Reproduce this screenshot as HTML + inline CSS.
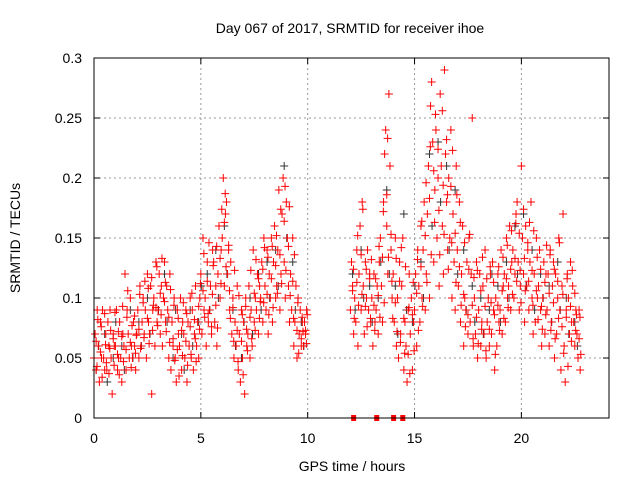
<!DOCTYPE html>
<html><head><meta charset="utf-8"><style>
html,body{margin:0;padding:0;background:#fff;}
svg{display:block;font-family:"Liberation Sans",sans-serif;}
</style></head><body>
<svg id="chart" width="640" height="480" xmlns="http://www.w3.org/2000/svg">
<text x="350" y="33" font-size="14" text-anchor="middle">Day 067 of 2017, SRMTID for receiver ihoe</text>
<text transform="translate(20,238) rotate(-90)" font-size="14" text-anchor="middle">SRMTID / TECUs</text>
<text x="352" y="471" font-size="14" text-anchor="middle">GPS time / hours</text>
<g id="grid"></g>
<g id="ticks"></g>
<g id="black"></g>
<g id="red"></g>
<g id="marks"></g>
<rect x="94" y="58" width="515" height="360" fill="none" stroke="#000" stroke-width="1"/>
</svg>
<script>
const xTicks=[0,5,10,15,20];
const yTicks=[0,0.05,0.1,0.15,0.2,0.25,0.3];
const yTickLabels=["0","0.05","0.1","0.15","0.2","0.25","0.3"];
// red series: [hour, values in hundredths...]
const redRows=[
[0.0,5,7,4,9],[0.2,6,3,8,5],[0.4,9,5,4,7],[0.6,4,8,6,9],[0.8,5,2,7,6],[1.0,6,9,4,5],[1.2,8,5,3,7],[1.4,6,12,4,9],[1.6,7,5,10,6],[1.8,5,8,6,4],
[2.0,7,9,5,11],[2.2,6,8,10,7],[2.4,9,5,12,8],[2.6,7,11,2,9],[2.8,10,6,13,8],[3.0,9,12,7,11],[3.2,6,10,13,8],[3.4,11,9,5,12],[3.6,4,8,6,10],[3.8,5,3,9,7],
[4.0,6,10,4,8],[4.2,7,5,9,3],[4.4,8,6,10,5],[4.6,9,4,7,11],[4.8,6,8,5,10],[5.0,12,7,15,9],[5.2,10,6,13,8],[5.4,9,11,7,14],[5.6,13,8,11,6],[5.8,12,16,10,14],
[6.0,15,20,11,17],[6.2,18,12,14,9],[6.4,13,7,10,5],[6.6,8,6,11,4],[6.8,7,3,9,5],[7.0,8,2,10,6],[7.2,7,11,5,9],[7.4,6,14,8,10],[7.6,9,12,7,11],[7.8,10,13,8,15],
[8.0,11,9,14,7],[8.2,12,10,15,8],[8.4,13,16,10,11],[8.6,14,19,9,12],[8.8,17,20,13,10],[9.0,18,15,11,8],[9.2,12,9,15,6],[9.4,8,11,5,10],[9.6,7,9,6,8],[9.8,6,8,7,9],
[12.0,9,13,11,7],[12.2,10,8,14,6],[12.4,12,16,9,18],[12.6,11,7,13,10],[12.8,14,9,12,8],[13.0,10,6,12,8],[13.2,9,11,7,13],[13.4,15,11,8,18],[13.6,22,24,16,12],[13.8,27,21,14,10],
[14.0,12,8,15,6],[14.2,10,5,13,7],[14.4,11,15,4,8],[14.6,6,3,9,12],[14.8,7,10,4,8],[15.0,9,12,6,14],[15.2,11,8,16,10],[15.4,14,18,9,12],[15.6,17,21,10,26],[15.8,28,23,13,19],
[16.0,24,15,20,11],[16.2,27,21,16,12],[16.4,29,22,18,14],[16.6,20,15,24,10],[16.8,17,13,9,21],[17.0,14,11,18,8],[17.2,12,16,6,10],[17.4,9,13,7,15],[17.6,8,12,25,6],[17.8,10,7,13,5],
[18.0,9,12,6,8],[18.2,11,7,14,5],[18.4,8,10,6,12],[18.6,7,13,9,4],[18.8,10,6,12,8],[19.0,9,14,7,11],[19.2,12,8,15,10],[19.4,11,16,9,13],[19.6,14,10,12,17],[19.8,18,13,9,11],
[20.0,21,15,12,8],[20.2,16,11,14,9],[20.4,13,18,10,7],[20.6,12,8,15,10],[20.8,11,14,9,6],[21.0,10,13,7,12],[21.2,9,12,6,14],[21.4,8,11,13,5],[21.6,12,7,10,15],[21.8,9,4,11,17],
[22.0,6,3,9,12],[22.2,10,7,13,8],[22.4,11,8,6,9],[22.6,7,5,9,4]
];
const redRows2=[
[0.1,6.4,4.3,8.2],[0.3,5.5,7.6,3.4],[0.5,8.7,6.1,4.6],[0.7,3.7,5.8,7.3],[0.9,6.6,4.4,8.8],[1.1,5.3,7.2,3.6],[1.3,6.8,9.3,4.7],[1.5,5.7,8.4,10.6],[1.7,6.3,4.2,7.7],[1.9,8.5,5.4,6.9],
[2.1,7.4,10.3,5.8],[2.3,9.6,6.7,11.4],[2.5,8.3,10.8,6.2],[2.7,11.7,7.3,9.4],[2.9,9.2,12.6,7.7],[3.1,10.4,8.6,13.3],[3.3,9.7,11.3,7.2],[3.5,8.4,6.3,10.7],[3.7,6.6,9.4,4.8],[3.9,5.7,8.3,3.5],
[4.1,7.3,5.2,9.6],[4.3,6.4,8.7,4.4],[4.5,7.6,5.3,10.4],[4.7,8.2,6.6,4.7],[4.9,9.3,7.4,11.2],[5.1,10.6,13.7,8.4],[5.3,11.4,8.7,14.6],[5.5,7.6,10.3,12.7],[5.7,9.4,14.3,7.5],[5.9,13.3,11.2,17.4],
[6.1,16.3,18.7,12.6],[6.3,14.4,10.6,8.3],[6.5,9.2,6.4,12.3],[6.7,7.3,4.7,10.2],[6.9,6.4,8.6,3.6],[7.1,9.3,7.4,5.6],[7.3,8.4,12.3,6.6],[7.5,10.4,7.3,13.2],[7.7,11.6,8.3,9.7],[7.9,12.4,9.6,14.2],
[8.1,10.3,13.4,8.6],[8.3,11.6,14.3,9.2],[8.5,12.7,15.2,10.4],[8.7,13.6,17.4,11.2],[8.9,16.4,19.3,12.3],[9.1,14.3,17.6,10.2],[9.3,11.4,8.3,13.6],[9.5,7.3,9.6,5.4],[9.7,6.6,8.4,7.2],[9.9,7.3,6.2,8.6],
[12.1,10.6,12.4,8.3],[12.3,11.3,15.2,9.4],[12.5,13.6,10.3,17.4],[12.7,9.3,12.4,7.6],[12.9,11.6,8.3,13.2],[13.1,9.4,7.3,11.6],[13.3,10.2,14.3,8.4],[13.5,13.4,17.2,9.6],[13.7,18.6,23.3,13.4],[13.9,15.3,11.4,8.3],
[14.1,9.6,13.3,7.2],[14.3,11.4,6.3,14.2],[14.5,8.3,5.4,12.6],[14.7,5.3,9.2,3.7],[14.9,8.6,11.3,5.6],[15.1,10.4,13.2,7.3],[15.3,12.6,16.4,9.3],[15.5,15.2,19.6,11.3],[15.7,18.3,22.6,13.6],[15.9,20.6,16.3,25.3],
[16.1,22.4,17.3,13.6],[16.3,25.6,19.4,15.3],[16.5,23.2,18.6,12.4],[16.7,19.3,14.6,22.3],[16.9,15.4,11.3,18.6],[17.1,12.6,16.3,9.4],[17.3,10.3,14.6,7.6],[17.5,8.6,12.4,15.3],[17.7,9.4,6.6,11.7],[17.9,8.4,12.3,6.2],
[18.1,10.6,7.4,13.4],[18.3,9.3,5.6,11.6],[18.5,7.4,12.6,9.6],[18.7,11.3,8.6,5.3],[18.9,9.4,12.6,7.3],[19.1,10.6,13.4,8.3],[19.3,11.6,14.4,9.2],[19.5,12.4,15.6,10.3],[19.7,13.3,16.2,11.4],[19.9,15.4,12.3,9.6],
[20.1,17.4,13.3,10.6],[20.3,14.6,11.4,16.3],[20.5,12.3,9.4,15.6],[20.7,10.6,13.4,8.2],[20.9,12.4,9.3,7.4],[21.1,11.3,8.6,14.4],[21.3,10.4,13.6,7.3],[21.5,9.6,12.4,6.6],[21.7,11.4,8.3,14.6],[21.9,7.6,10.3,5.4],
[22.1,8.4,11.6,4.3],[22.3,9.3,6.4,12.3],[22.5,10.4,7.3,8.6],[22.7,6.6,8.4,5.3]
];
const blackRows=[
[0.1,4,6],[0.5,7,3],[0.9,5,8],[1.3,6,4],[1.7,9,5],[2.1,8,6],[2.5,10,7],[2.9,13,9],[3.3,12,8],[3.7,5,9],[4.1,7,4],[4.5,9,6],[4.9,8,11],
[5.3,12,9],[5.7,14,10],[6.1,16,12],[6.5,9,6],[6.9,5,8],[7.3,10,7],[7.7,12,9],[8.1,13,10],[8.5,14,11],[8.9,21,15],[9.3,13,9],[9.7,8,6],
[12.1,12,9],[12.5,14,10],[12.9,11,8],[13.3,10,13],[13.7,19,12],[14.1,11,7],[14.5,17,9],[14.9,8,11],[15.3,13,10],[15.7,22,16],[16.1,23,18],[16.5,21,14],[16.9,19,12],[17.3,14,9],[17.7,11,8],
[18.1,10,7],[18.5,9,12],[18.9,11,8],[19.3,13,10],[19.7,16,12],[20.1,17,11],[20.5,14,9],[20.9,12,10],[21.3,11,8],[21.7,13,9],[22.1,10,7],[22.5,8,6]
];
const outageHours=[12.15,13.23,14.02,14.45];

const NS="http://www.w3.org/2000/svg";
const X0=94,X1=609,Y0=418,Y1=58,XMAX=24.1,YMAX=0.3;
function xs(h){return X0+h/XMAX*(X1-X0);}
function ys(v){return Y0-v/YMAX*(Y0-Y1);}
function mk(tag,attrs,parent){const e=document.createElementNS(NS,tag);for(const k in attrs)e.setAttribute(k,attrs[k]);parent.appendChild(e);return e;}
const grid=document.getElementById('grid'),ticks=document.getElementById('ticks');
xTicks.forEach(t=>{
  const x=xs(t);
  if(t>0){const g=mk('line',{x1:x,x2:x,y1:Y1,y2:Y0,stroke:'#999','stroke-dasharray':'2,3'},grid);
  
  }
  mk('line',{x1:x,x2:x,y1:Y0,y2:Y0-6,stroke:'#000'},ticks);
  mk('line',{x1:x,x2:x,y1:Y1,y2:Y1+6,stroke:'#000'},ticks);
  const l=mk('text',{x:x,y:443,'font-size':14,'text-anchor':'middle'},ticks);l.textContent=t;
  
  
});
yTicks.forEach((t,i)=>{
  const y=ys(t);
  if(t>0&&t<0.3){const g=mk('line',{x1:X0,x2:X1,y1:y,y2:y,stroke:'#999','stroke-dasharray':'2,3'},grid);
  
  }
  mk('line',{x1:X0,x2:X0+6,y1:y,y2:y,stroke:'#000'},ticks);
  mk('line',{x1:X1,x2:X1-6,y1:y,y2:y,stroke:'#000'},ticks);
  const l=mk('text',{x:82,y:y+5,'font-size':14,'text-anchor':'end'},ticks);l.textContent=yTickLabels[i];
  
  
});
function plus(g,h,v,c){
  const x=xs(h),y=ys(v);
  const p=mk('path',{d:`M${x-4},${y}h8M${x},${y-4}v8`,stroke:c,'stroke-width':1,fill:'none'},g);
  
  
}
const bg=document.getElementById('black');
blackRows.forEach(r=>{for(let j=1;j<r.length;j++)plus(bg,r[0]+(j-1)*0.12,r[j]/100,'#333');});
const rg=document.getElementById('red');
redRows.forEach(r=>{for(let j=1;j<r.length;j++)plus(rg,r[0]+(j-1)*0.05,r[j]/100,'#f00');});
redRows2.forEach(r=>{for(let j=1;j<r.length;j++)plus(rg,r[0]+(j-1)*0.04,r[j]/100,'#f00');});
const mg=document.getElementById('marks');
outageHours.forEach(h=>{
  const m=mk('rect',{x:xs(h)-2.5,y:Y0-3,width:5,height:6,fill:'#f00'},mg);
  
  
});
</script>
</body></html>
